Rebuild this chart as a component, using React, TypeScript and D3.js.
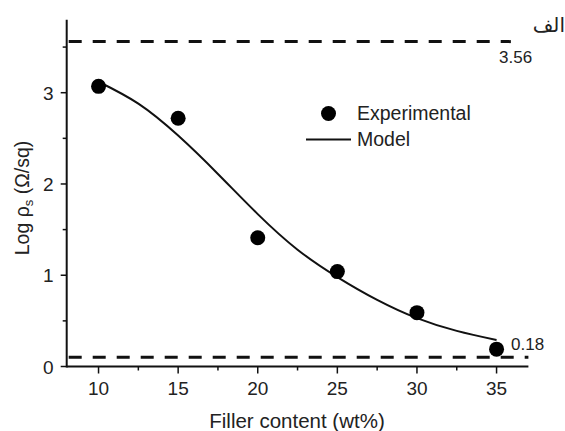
import React, { useEffect, useRef } from 'react';
import * as d3 from 'd3';

// experimental points
const fillerContent = [10, 15, 20, 25, 30, 35];
const logRho = [3.07, 2.72, 1.41, 1.04, 0.59, 0.19];

// model curve
const modelX = [10, 12.5, 15, 17.5, 20, 22.5, 25, 27.5, 30, 32.5, 35];
const modelY = [3.12, 2.88, 2.53, 2.11, 1.67, 1.28, 0.98, 0.73, 0.53, 0.39, 0.29];

// limit lines
const limitValues = [3.56, 0.1];
const limitLabels = ['3.56', '0.18'];

const xTicks = [10, 15, 20, 25, 30, 35];
const xMinor = [12.5, 17.5, 22.5, 27.5, 32.5];
const yTicks = [0, 1, 2, 3];
const yMinor = [0.5, 1.5, 2.5, 3.5];

const legendLabels = ['Experimental', 'Model'];

export default function App() {
  const ref = useRef<SVGSVGElement>(null);

  useEffect(() => {
    const svg = d3.select(ref.current);
    svg.selectAll('*').remove();
    const font = 'Liberation Sans, Arial, sans-serif';

    const x = d3.scaleLinear().domain([8, 37]).range([66.7, 528.4]);
    const y = d3.scaleLinear().domain([0, 3.8]).range([366.5, 19.7]);

    // limit lines
    svg.selectAll('.limit')
      .data(limitValues)
      .enter().append('line')
      .attr('x1', x(8) + 2)
      .attr('x2', (d, i) => i === 0 ? x(35.9) : x(37))
      .attr('y1', d => y(d))
      .attr('y2', d => y(d))
      .attr('stroke', '#111')
      .attr('stroke-width', 3)
      .attr('stroke-dasharray', '13,11');

    svg.append('text')
      .attr('x', 499).attr('y', y(limitValues[0]) + 21)
      .attr('font-family', font).attr('font-size', 17).attr('fill', '#222')
      .text(limitLabels[0]);
    svg.append('text')
      .attr('x', 511).attr('y', 350)
      .attr('font-family', font).attr('font-size', 17).attr('fill', '#222')
      .text(limitLabels[1]);

    // axes
    const xAxis = svg.append('g').attr('transform', `translate(0,${y(0)})`);
    xAxis.append('line').attr('x1', x(8)).attr('x2', x(37)).attr('stroke', '#111').attr('stroke-width', 2);
    xAxis.selectAll('.maj').data(xTicks).enter().append('line')
      .attr('x1', d => x(d)).attr('x2', d => x(d)).attr('y1', 0).attr('y2', 7)
      .attr('stroke', '#111').attr('stroke-width', 1.5);
    xAxis.selectAll('.min').data(xMinor).enter().append('line')
      .attr('x1', d => x(d)).attr('x2', d => x(d)).attr('y1', 0).attr('y2', 4)
      .attr('stroke', '#111').attr('stroke-width', 1.5);
    xAxis.selectAll('.lab').data(xTicks).enter().append('text')
      .attr('x', d => x(d)).attr('y', 28).attr('text-anchor', 'middle')
      .attr('font-family', font).attr('font-size', 19).attr('fill', '#222')
      .text(d => d);

    const yAxis = svg.append('g').attr('transform', `translate(${x(8)},0)`);
    yAxis.append('line').attr('y1', y(0) + 1).attr('y2', y(3.8)).attr('stroke', '#111').attr('stroke-width', 2);
    yAxis.selectAll('.maj').data(yTicks).enter().append('line')
      .attr('y1', d => y(d)).attr('y2', d => y(d)).attr('x1', 0).attr('x2', -6)
      .attr('stroke', '#111').attr('stroke-width', 1.5);
    yAxis.selectAll('.min').data(yMinor).enter().append('line')
      .attr('y1', d => y(d)).attr('y2', d => y(d)).attr('x1', 0).attr('x2', -4)
      .attr('stroke', '#111').attr('stroke-width', 1.5);
    yAxis.selectAll('.lab').data(yTicks).enter().append('text')
      .attr('x', -13).attr('y', d => y(d) + 7).attr('text-anchor', 'end')
      .attr('font-family', font).attr('font-size', 19).attr('fill', '#222')
      .text(d => d);

    // axis titles
    svg.append('text')
      .attr('x', 297).attr('y', 428).attr('text-anchor', 'middle')
      .attr('font-family', font).attr('font-size', 20.5).attr('fill', '#222')
      .text('Filler content (wt%)');

    const yt = svg.append('text')
      .attr('transform', 'translate(29,198) rotate(-90)')
      .attr('text-anchor', 'middle')
      .attr('font-family', font).attr('font-size', 19.5).attr('fill', '#222');
    yt.append('tspan').text('Log ρ');
    yt.append('tspan').attr('font-size', 13).attr('dy', 4).text('s');
    yt.append('tspan').attr('dy', -4).text(' (Ω/sq)');

    // model curve
    const line = d3.line<number>()
      .x((d, i) => x(modelX[i]))
      .y(d => y(d))
      .curve(d3.curveNatural);
    svg.append('path')
      .datum(modelY)
      .attr('d', line)
      .attr('fill', 'none')
      .attr('stroke', '#111')
      .attr('stroke-width', 2);

    // experimental points
    svg.selectAll('.dot')
      .data(logRho)
      .enter().append('circle')
      .attr('cx', (d, i) => x(fillerContent[i]))
      .attr('cy', d => y(d))
      .attr('r', 7.5)
      .attr('fill', '#000');

    // legend
    svg.append('circle').attr('cx', 328.5).attr('cy', 113.5).attr('r', 7.5).attr('fill', '#000');
    svg.append('line').attr('x1', 306).attr('x2', 351).attr('y1', 139.5).attr('y2', 139.5)
      .attr('stroke', '#111').attr('stroke-width', 2);
    svg.selectAll('.leg').data(legendLabels).enter().append('text')
      .attr('x', 357).attr('y', (d, i) => 120 + i * 26)
      .attr('font-family', font).attr('font-size', 19.5).attr('fill', '#222')
      .text(d => d);

    // panel tag
    svg.append('text')
      .attr('x', 565).attr('y', 32).attr('text-anchor', 'end')
      .attr('font-family', 'DejaVu Sans, Noto Sans, sans-serif').attr('font-size', 20).attr('fill', '#222')
      .text('الف');
  }, []);

  return (
    <svg ref={ref} width={565} height={431}
      style={{ position: 'absolute', left: 0, top: 0, background: '#fff' }} />
  );
}
